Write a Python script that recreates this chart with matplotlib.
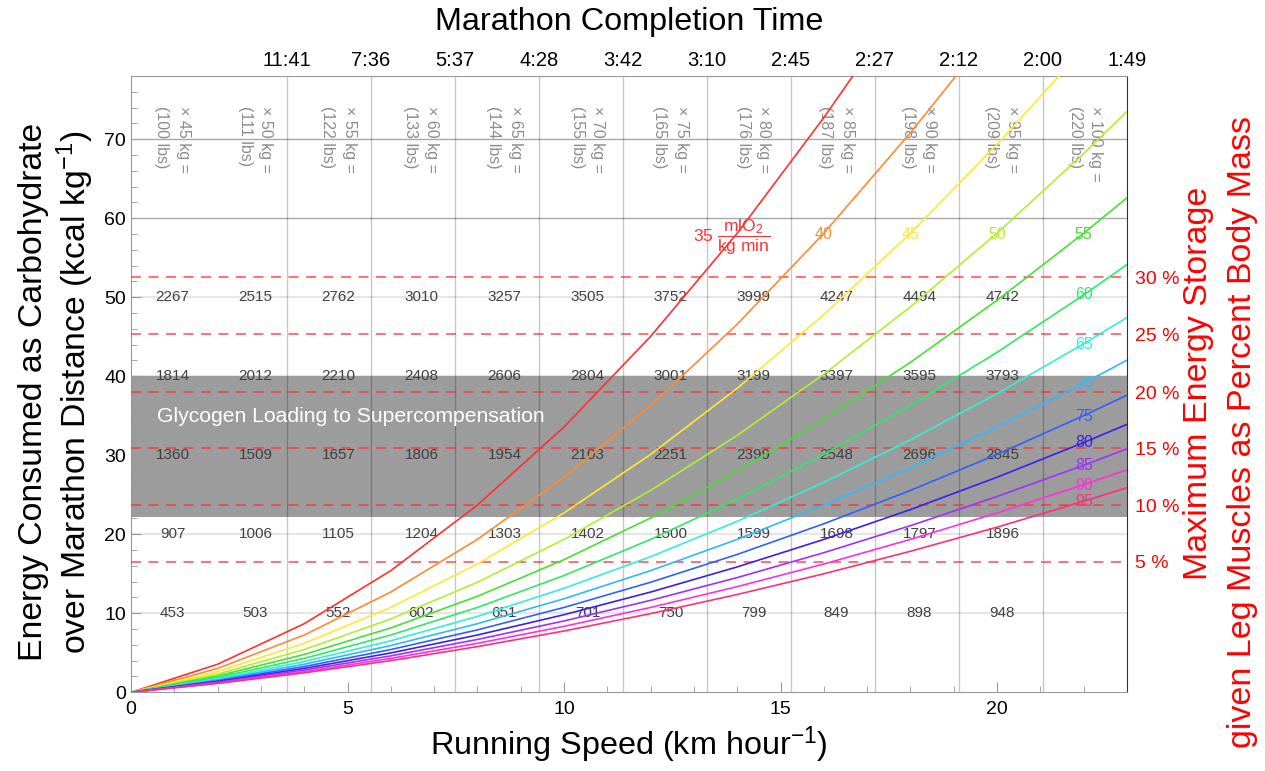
import numpy as np
import matplotlib.pyplot as plt
from matplotlib.ticker import MultipleLocator

plt.rcParams['font.family'] = ['Liberation Sans', 'DejaVu Sans']
plt.rcParams['mathtext.fontset'] = 'custom'
plt.rcParams['mathtext.rm'] = 'Liberation Sans'
plt.rcParams['mathtext.it'] = 'Liberation Sans:italic'
plt.rcParams['mathtext.sf'] = 'Liberation Sans'

# --- data ---
vo2max = [35, 40, 45, 50, 55, 60, 65, 70, 75, 80, 85, 90, 95]
grid = [0, 2, 4, 6, 8, 10, 12, 14, 16, 18, 20, 22, 23]

speed_35 = [0, 2, 4, 6, 8, 10, 12, 14, 16, 16.67]
carb_35 = [0, 3.55, 8.68, 15.40, 23.70, 33.58, 45.05, 58.10, 72.74, 78]
speed_40 = [0, 2, 4, 6, 8, 10, 12, 14, 16, 18, 19.05]
carb_40 = [0, 3.02, 7.25, 12.69, 19.35, 27.22, 36.30, 46.59, 58.10, 70.82, 78]
speed_45 = [0, 2, 4, 6, 8, 10, 12, 14, 16, 18, 20, 21.43]
carb_45 = [0, 2.62, 6.20, 10.74, 16.24, 22.70, 30.11, 38.48, 47.81, 58.10, 69.35, 78]
carb_50 = [0, 2.32, 5.41, 9.28, 13.93, 19.35, 25.55, 32.52, 40.27, 48.80, 58.10, 68.18, 73.51]
carb_55 = [0, 2.07, 4.79, 8.15, 12.15, 16.79, 22.07, 27.99, 34.56, 41.76, 49.61, 58.10, 62.58]
carb_60 = [0, 1.88, 4.29, 7.25, 10.74, 14.78, 19.35, 24.46, 30.11, 36.30, 43.03, 50.29, 54.13]
carb_65 = [0, 1.71, 3.89, 6.52, 9.61, 13.16, 17.17, 21.64, 26.57, 31.96, 37.80, 44.11, 47.43]
carb_70 = [0, 1.58, 3.55, 5.92, 8.68, 11.84, 15.40, 19.35, 23.70, 28.44, 33.58, 39.12, 42.03]
carb_75 = [0, 1.46, 3.26, 5.41, 7.90, 10.74, 13.93, 17.45, 21.33, 25.55, 30.11, 35.02, 37.60]
carb_80 = [0, 1.36, 3.02, 4.98, 7.25, 9.82, 12.69, 15.87, 19.35, 23.13, 27.22, 31.61, 33.91]
carb_85 = [0, 1.27, 2.81, 4.61, 6.69, 9.03, 11.64, 14.52, 17.67, 21.09, 24.78, 28.73, 30.81]
carb_90 = [0, 1.19, 2.62, 4.29, 6.20, 8.35, 10.74, 13.37, 16.24, 19.35, 22.70, 26.28, 28.17]
carb_95 = [0, 1.12, 2.46, 4.01, 5.78, 7.76, 9.96, 12.38, 15.00, 17.85, 20.90, 24.18, 25.89]

weights_kg = [45, 50, 55, 60, 65, 70, 75, 80, 85, 90, 95, 100]
weights_lbs = [100, 111, 122, 133, 144, 155, 165, 176, 187, 198, 209, 220]

row_levels = [10, 20, 30, 40, 50]
kcal_10 = [453, 503, 552, 602, 651, 701, 750, 799, 849, 898, 948]
kcal_20 = [907, 1006, 1105, 1204, 1303, 1402, 1500, 1599, 1698, 1797, 1896]
kcal_30 = [1360, 1509, 1657, 1806, 1954, 2103, 2251, 2399, 2548, 2696, 2845]
kcal_40 = [1814, 2012, 2210, 2408, 2606, 2804, 3001, 3199, 3397, 3595, 3793]
kcal_50 = [2267, 2515, 2762, 3010, 3257, 3505, 3752, 3999, 4247, 4494, 4742]

pct_labels = [5, 10, 15, 20, 25, 30]
pct_levels = [16.5, 23.7, 30.9, 38.0, 45.3, 52.5]

finish_times = ['11:41', '7:36', '5:37', '4:28', '3:42', '3:10', '2:45',
                '2:27', '2:12', '2:00', '1:49']
finish_speeds = [3.6, 5.54, 7.48, 9.42, 11.36, 13.3, 15.24, 17.18, 19.12,
                 21.06, 23.0]

glycogen_low, glycogen_high = 22.2, 40.0

# --- styles ---
colors = ['#ff3030', '#ff8a30', '#ffe830', '#b0f030', '#48e030', '#30e868',
          '#30f0d8', '#30b8ff', '#3060ff', '#3a20f0', '#a030ff', '#ff30e0',
          '#ff3078']
xmax, ymax = 23, 78

curves = [(speed_35, carb_35), (speed_40, carb_40), (speed_45, carb_45),
          (grid, carb_50), (grid, carb_55), (grid, carb_60), (grid, carb_65),
          (grid, carb_70), (grid, carb_75), (grid, carb_80), (grid, carb_85),
          (grid, carb_90), (grid, carb_95)]

fig = plt.figure(figsize=(12.65, 7.71), dpi=100)
ax = fig.add_axes([131 / 1265, 1 - 692.3 / 771, 996 / 1265, 616.3 / 771])
ax.set_xlim(0, xmax)
ax.set_ylim(0, ymax)

# background grid
for y in row_levels:
    ax.axhline(y, color='#e6e6e6', lw=1.5, zorder=0.5)
for y in [60, 70]:
    ax.axhline(y, color='#a8a8a8', lw=1, zorder=2)
ax.axhspan(glycogen_low, glycogen_high, color='#9c9c9c', lw=0, zorder=1)
for s in finish_speeds[:-1]:
    ax.axvline(s, color='k', alpha=0.22, lw=1, zorder=2)
for y in pct_levels:
    ax.axhline(y, color='#ff3030', alpha=0.8, lw=1.2, dashes=(6, 4.5), zorder=3)

ax.text(0.59, 34.9, 'Glycogen Loading to Supercompensation', color='white',
        fontsize=15.2, va='center', ha='left', zorder=3)

# kcal numbers and body-mass columns
col_x = (np.arange(12) + 0.5) * xmax / 12
for lvl, row in zip(row_levels, [kcal_10, kcal_20, kcal_30, kcal_40, kcal_50]):
    for x, v in zip(col_x, row):
        ax.text(x, lvl, str(v), fontsize=11, color='#404040', ha='center',
                va='center', zorder=3)
for x, kg, lb in zip(col_x, weights_kg, weights_lbs):
    ax.text(x, 74.2, f'× {kg} kg =\n({lb} lbs)', rotation=-90, fontsize=11.5,
            color='#8c8c8c', ha='center', va='top', multialignment='left',
            linespacing=1.5, zorder=3)

# curves
for (sx, sy), c in zip(curves, colors):
    ax.plot(sx, sy, color=c, lw=1.2, zorder=4, clip_on=True)

# curve labels
label_pos = [(13.87, 57.6), (16.0, 58.0), (18.0, 58.0), (20.0, 58.0), (22.0, 58.0),
             (22.0, 50.3), (22.0, 44.0), (22.0, 39.0), (22.0, 34.9), (22.0, 31.6),
             (22.0, 28.7), (22.0, 26.2), (22.0, 24.2)]
for i, (v, (lx, ly), c) in enumerate(zip(vo2max, label_pos, colors)):
    if i == 0:
        ax.text(lx, ly, r'$%d\ \dfrac{\mathrm{mlO_2}}{\mathrm{kg\ min}}$' % v,
                color=c, fontsize=12.5, ha='center', va='center', zorder=5)
    else:
        ax.text(lx, ly, str(v), color=c, fontsize=11.5, ha='center',
                va='center', zorder=5)

# axes styling
ax.xaxis.set_major_locator(MultipleLocator(5))
ax.xaxis.set_minor_locator(MultipleLocator(1))
ax.yaxis.set_major_locator(MultipleLocator(10))
ax.yaxis.set_minor_locator(MultipleLocator(2))
ax.tick_params(which='both', direction='in', color='#999999', labelsize=14)
ax.tick_params(which='major', length=7)
ax.tick_params(which='minor', length=4)
ax.tick_params(axis='x', pad=6)
for side in ['left', 'bottom', 'top']:
    ax.spines[side].set_color('#999999')
ax.spines['right'].set_color('#333333')

top = ax.secondary_xaxis('top')
top.set_xticks(finish_speeds, labels=finish_times)
top.tick_params(length=0, labelsize=14.5, pad=4)
top.spines['top'].set_visible(False)

right = ax.secondary_yaxis('right')
right.set_yticks(pct_levels, labels=[f'{p} %' for p in pct_labels])
right.tick_params(length=0, labelsize=14, labelcolor='red', pad=6)
right.spines['right'].set_visible(False)

fig.text(629 / 1265, 1 - 22 / 771, 'Marathon Completion Time', fontsize=23.3,
         ha='center', va='center')
fig.text(629 / 1265, 1 - 745 / 771, r'Running Speed (km hour$^{-1}$)',
         fontsize=23.3, ha='center', va='center')
fig.text(57 / 1265, 1 - 392 / 771,
         'Energy Consumed as Carbohydrate\n' + r'over Marathon Distance (kcal kg$^{-1}$)',
         fontsize=24.3, rotation=90, ha='center', va='center', multialignment='center')
fig.text(1198 / 1265, 1 - 383 / 771, 'Maximum Energy Storage',
         fontsize=24.5, rotation=90, ha='center', va='center', color='red')
fig.text(1243 / 1265, 1 - 432 / 771, 'given Leg Muscles as Percent Body Mass',
         fontsize=24.5, rotation=90, ha='center', va='center', color='red')

fig.savefig('out.png', dpi=100)
